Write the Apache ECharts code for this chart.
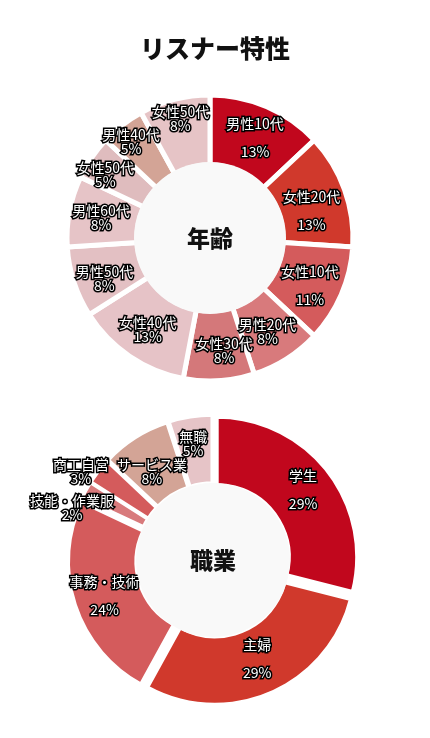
<!DOCTYPE html>
<html>
<head>
<meta charset="utf-8">
<script src="https://cdn.jsdelivr.net/npm/echarts@6/dist/echarts.min.js"></script>
<style>
  html, body { margin: 0; padding: 0; background: #fff; }
  #main { width: 430px; height: 738px; }
</style>
</head>
<body>
<div id="main"></div>
<script>
// リスナー特性
var titleText = 'リスナー特性';

// 年齢
var ageTitle = '年齢';
var ageNames = ['男性10代', '女性20代', '女性10代', '男性20代', '女性30代', '女性40代', '男性50代', '男性60代', '女性50代', '男性40代', '女性50代'];
var ageValues = [13, 13, 11, 8, 8, 13, 8, 8, 5, 5, 8];
var ageColors = ['#c1071d', '#d0392c', '#d45b5c', '#d87a7c', '#d4787a', '#e6c3c7', '#e3c0c3', '#e6c4c7', '#dfbcbe', '#d3a496', '#e6c4c6'];

// 職業
var jobTitle = '職業';
var jobNames = ['学生', '主婦', '事務・技術', '技能・作業服', '商工自営', 'サービス業', '無職'];
var jobValues = [29, 29, 24, 2, 3, 8, 5];
var jobColors = ['#c1071d', '#d0392c', '#d45b5c', '#d87a7c', '#d45b5c', '#d3a496', '#e6c4c7'];

// 最初の3つはラベルの間を空ける
var spacedCount = 3;
// ラベルの微調整 [dx, dy]
var ageLabelShift = [[1, 2], [-3, 10], [-2, 4], [-2, 0], [7, 2], [0, 0], [0, 6], [0, 0], [-13, -1], [-11, -9], [-2, -12]];
var jobLabelShift = [[0, 0], [-1, -6], [0, 0], [-41, 3], [-42, -18], [0, 8], [-2, -4]];

var labelStyle = {
  position: 'inside',
  color: '#fff',
  fontSize: 14,
  lineHeight: 14,
  fontFamily: 'Noto Sans CJK JP',
  textBorderColor: '#000',
  textBorderWidth: 3
};

function buildData(names, values, colors) {
  var list = [];
  for (var i = 0; i < names.length; i++) {
    list.push({
      name: names[i],
      value: values[i],
      itemStyle: { color: colors[i] },
      label: {
        formatter: i < spacedCount ? '{b}\n\n{d}%' : '{b}\n{d}%'
      }
    });
  }
  return list;
}

function shiftLayout(shifts) {
  return function (params) {
    var s = shifts[params.dataIndex] || [0, 0];
    return { hideOverlap: false, dx: s[0], dy: s[1] };
  };
}

// 中央の丸
function centerCircle(center, radius, text) {
  return {
    type: 'pie',
    silent: true,
    z: 5,
    center: center,
    radius: [0, radius],
    emphasis: { disabled: true },
    itemStyle: { color: '#f9f9f9' },
    label: {
      position: 'center',
      formatter: text,
      color: '#111',
      fontSize: 23,
      fontWeight: 900,
      fontFamily: 'Noto Sans CJK JP'
    },
    labelLine: { show: false },
    data: [{ value: 1, name: text }]
  };
}

var jobData = buildData(jobNames, jobValues, jobColors);
jobData.forEach(function (d) { d.selected = true; });

var chart = echarts.init(document.getElementById('main'));
chart.setOption({
  animation: false,
  backgroundColor: '#fff',
  title: {
    text: titleText,
    left: 'center',
    top: 31,
    textStyle: {
      fontSize: 25,
      fontWeight: 900,
      color: '#111',
      fontFamily: 'Noto Sans CJK JP'
    }
  },
  series: [
    {
      type: 'pie',
      center: [210, 238],
      radius: [73, 143],
      startAngle: 90,
      clockwise: true,
      avoidLabelOverlap: false,
      labelLayout: shiftLayout(ageLabelShift),
      emphasis: { disabled: true },
      itemStyle: { borderColor: '#fff', borderWidth: 5 },
      label: labelStyle,
      labelLine: { show: false },
      data: buildData(ageNames, ageValues, ageColors)
    },
    centerCircle([210, 238], 76, ageTitle),
    {
      type: 'pie',
      center: [213, 560],
      radius: [72, 140],
      startAngle: 90,
      clockwise: true,
      avoidLabelOverlap: false,
      labelLayout: shiftLayout(jobLabelShift),
      selectedMode: 'multiple',
      selectedOffset: 5,
      emphasis: { disabled: true },
      select: { itemStyle: { borderColor: '#fff', borderWidth: 3.5 } },
      itemStyle: { borderColor: '#fff', borderWidth: 3.5 },
      label: labelStyle,
      labelLine: { show: false },
      data: jobData
    },
    centerCircle([213, 560], 77, jobTitle)
  ]
});
</script>
</body>
</html>
